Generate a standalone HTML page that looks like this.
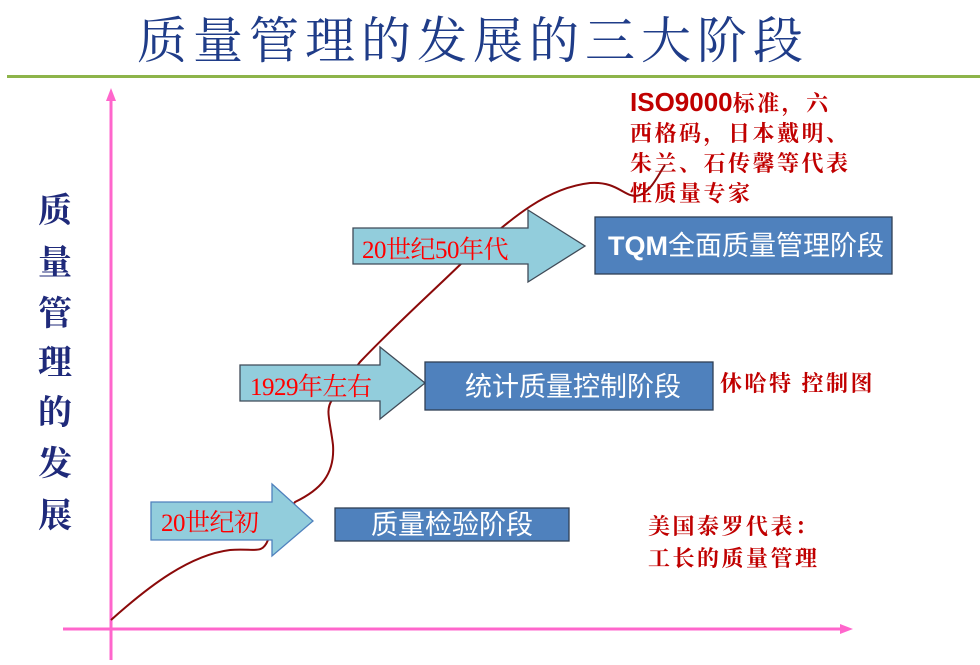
<!DOCTYPE html>
<html><head><meta charset="utf-8"><style>
html,body{margin:0;padding:0;background:#fff;}
svg{display:block}
</style></head><body>
<svg width="980" height="665" xmlns="http://www.w3.org/2000/svg" font-family="'Liberation Serif','Noto Serif CJK SC',serif">
<text x="137" y="58" font-size="50" fill="#1f3c88" font-family="'Noto Serif CJK SC',serif" letter-spacing="6">质量管理的发展的三大阶段</text>
<rect x="7" y="75" width="973" height="3" fill="#8db44a"/>
<!-- axes -->
<line x1="111" y1="98" x2="111" y2="660" stroke="#ff66cc" stroke-width="3"/>
<polygon points="111,88 106,101 116,101" fill="#ff66cc"/>
<line x1="63" y1="629" x2="842" y2="629" stroke="#ff66cc" stroke-width="3"/>
<polygon points="853,629 840,624 840,634" fill="#ff66cc"/>
<!-- vertical text -->
<g font-family="'Noto Serif CJK SC',serif" font-size="34" fill="#1f2a7a" font-weight="bold" text-anchor="middle">
<text x="55" y="222">质</text><text x="55" y="274">量</text><text x="55" y="325">管</text><text x="55" y="374">理</text><text x="55" y="424">的</text><text x="55" y="475">发</text><text x="55" y="527">展</text>
</g>
<!-- curve (behind arrows) -->
<path d="M111,620 C150,585 190,555 230,550 C255,548 262,555 268,540 L295,502 C320,490 335,475 333,445 C330,420 325,410 332,400 L360,362 C400,320 440,285 470,255 C510,220 545,188 590,183 C620,181 625,200 640,195 C652,190 658,175 665,165" fill="none" stroke="#8b0a0a" stroke-width="2"/>
<!-- arrows -->
<g fill="#92cddc" stroke="#3f4a57" stroke-width="1.3">
<polygon points="151,502 272,502 272,484 313,521 272,556 272,540 151,540" stroke="#4f81bd"/>
<polygon points="240,365 380,365 380,347 425,383 380,419 380,401 240,401"/>
<polygon points="353,228 528,228 528,210 585,246 528,282 528,264 353,264"/>
</g>
<!-- boxes -->
<g fill="#4f81bd" stroke="#2f3f55" stroke-width="1.3">
<rect x="335" y="508" width="234" height="33"/>
<rect x="425" y="362" width="288" height="48"/>
<rect x="595" y="217" width="297" height="57"/>
</g>
<g font-family="'Liberation Serif','Noto Serif CJK SC',serif" font-size="25" fill="#ff0000" letter-spacing="-0.5">
<text x="161" y="531">20世纪初</text>
<text x="250" y="395">1929年左右</text>
<text x="362" y="258">20世纪50年代</text>
</g>
<g font-family="'Liberation Sans','Noto Sans CJK SC',sans-serif" font-size="27" fill="#fff">
<text x="371" y="534">质量检验阶段</text>
<text x="465" y="396">统计质量控制阶段</text>
<text x="608" y="255"><tspan font-weight="bold">TQM</tspan>全面质量管理阶段</text>
</g>
<g font-family="'Noto Serif CJK SC',serif" font-size="22" fill="#c00000" font-weight="bold" letter-spacing="2.5">
<text x="720" y="391">休哈特 控制图</text>
<text x="648" y="534">美国泰罗代表：</text>
<text x="648" y="566">工长的质量管理</text>
<text x="630" y="111"><tspan font-family="'Liberation Sans',sans-serif" font-size="26" letter-spacing="0">ISO9000</tspan>标准，六</text>
<text x="630" y="141">西格码，日本戴明、</text>
<text x="630" y="171">朱兰、石传馨等代表</text>
<text x="630" y="201">性质量专家</text>
</g>
</svg>
</body></html>
